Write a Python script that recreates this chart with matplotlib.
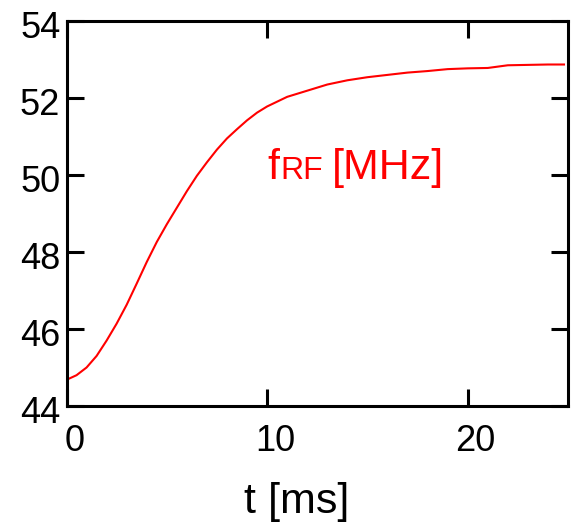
import matplotlib
matplotlib.use("Agg")
import matplotlib.pyplot as plt
import matplotlib.transforms as mtransforms
import numpy as np

plt.rcParams['font.family'] = ['Liberation Sans', 'DejaVu Sans']

# RF frequency ramp during acceleration
t_ms = [0, 0.5, 1, 1.5, 2, 2.5, 3, 3.5, 4, 4.5, 5, 5.5, 6, 6.5, 7, 7.5, 8, 8.5,
        9, 9.5, 10, 11, 12, 13, 14, 15, 16, 17, 18, 19, 20, 21, 22, 23, 24, 24.8]
f_rf = [44.68, 44.80, 45.00, 45.30, 45.70, 46.14, 46.63, 47.18, 47.74, 48.26,
        48.72, 49.15, 49.58, 49.98, 50.33, 50.66, 50.95, 51.19, 51.42, 51.62,
        51.78, 52.03, 52.19, 52.35, 52.46, 52.54, 52.60, 52.66, 52.70, 52.75,
        52.77, 52.78, 52.85, 52.86, 52.87, 52.87]

x_ticks = [0, 10, 20]
y_ticks = [44, 46, 48, 50, 52, 54]

fig = plt.figure(figsize=(5.8, 5.27), dpi=100)
ax = fig.add_axes([66.5 / 580, 1 - 406 / 527, (568 - 66.5) / 580, (406 - 21) / 527])

ax.plot(t_ms, f_rf, color='#ff0000', lw=1.5)

ax.set_xlim(0, 25)
ax.set_ylim(44, 54)
ax.set_xticks(x_ticks)
ax.set_yticks(y_ticks)

for sp in ax.spines.values():
    sp.set_linewidth(2.2)
ax.tick_params(axis='both', which='major', direction='in', length=12.5, width=2.2,
               labelsize=26, top=True, right=True)
ax.tick_params(axis='x', pad=13)
ax.tick_params(axis='y', pad=4.5)

# nudge tick labels a little
dx = mtransforms.ScaledTranslation(8 / 100, 0, fig.dpi_scale_trans)
for lab in ax.get_xticklabels():
    lab.set_transform(lab.get_transform() + dx)
dy = mtransforms.ScaledTranslation(0, -3 / 100, fig.dpi_scale_trans)
for lab in ax.get_yticklabels():
    lab.set_transform(lab.get_transform() + dy)

# curve label: f with small-caps RF, then the unit
ax.text(10.0, 49.89, 'f', color='#ff0000', fontsize=31, va='baseline', ha='left')
ax.text(10.68, 49.89, 'RF', color='#ff0000', fontsize=23, va='baseline', ha='left')
ax.text(13.25, 49.89, '[MHz]', color='#ff0000', fontsize=31, va='baseline', ha='left')

fig.text(297 / 580, 1 - 513 / 527, 't [ms]', fontsize=31, ha='center', va='baseline')

fig.savefig('out.png', dpi=100)
